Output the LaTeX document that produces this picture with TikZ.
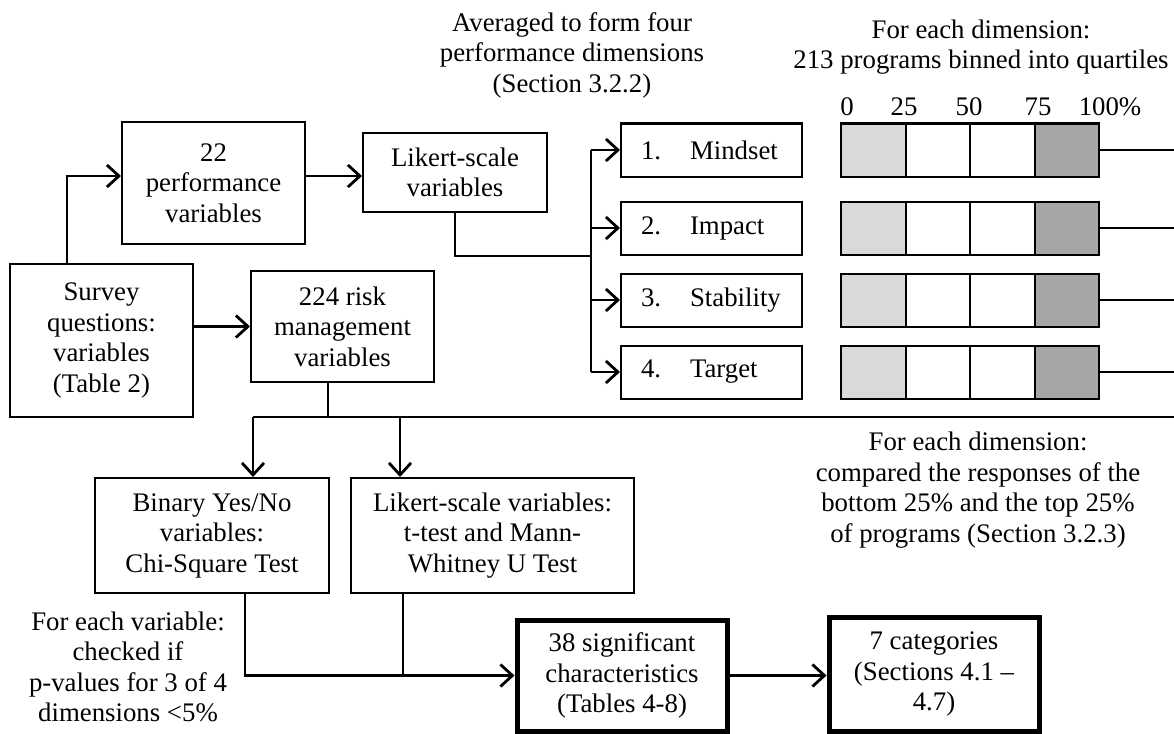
\documentclass[tikz,border=0pt]{standalone}
\usepackage{fontspec}
\setmainfont{Liberation Serif}
\usetikzlibrary{arrows.meta}

\begin{document}
\begin{tikzpicture}[x=1pt,y=-1pt,
  every node/.style={font=\fontsize{26.8}{30.5}\selectfont,align=center},
  box/.style={draw,line width=2pt,inner sep=0pt},
  bigbox/.style={box,line width=5pt},
  cell/.style={box,minimum width=64.5pt,minimum height=53pt},
  link/.style={line width=2.8pt},
  arr/.style={link,-{Straight Barb[length=12pt,width=22pt,line width=2.8pt]}}]

	\useasboundingbox (0,0) rectangle (1174,733);

	% boxes of the upper half
	\node [box, minimum width=183pt, minimum height=153pt] (survey) at (101.5,340.5) {Survey\\questions:\\variables\\(Table 2)};
	\node [box, minimum width=183pt, minimum height=122pt] (perf) at (213.5,183) {22\\performance\\variables};
	\node [box, minimum width=184pt, minimum height=79pt] (likA) at (455,172.5) {Likert-scale\\variables};
	\node [box, minimum width=183pt, minimum height=111pt] (risk) at (342.5,326.5) {224 risk\\management\\variables};

	\node (avg) at (572,55) {Averaged to form four\\performance dimensions\\(Section 3.2.2)};
	\node (quart) at (981,47) {For each dimension:\\213 programs binned into quartiles};
	\foreach \lab/\xx in {0/847,25/904,50/969,75/1038,100\%/1110}
		\node (lab\xx) at (\xx,107) {\lab};

	% four dimensions and their quartiles
	\foreach \i/\name/\yy in {1/Mindset/150,2/Impact/228,3/Stability/300,4/Target/372} {
		\node [box, minimum width=181pt, minimum height=53pt, text width=141pt, align=left] (dim\i) at (711.5,\yy) {\makebox[49pt][l]{\i.}\name};
		\node [cell, fill=gray!30] (lo\i) at (873.25,\yy) {};
		\node [cell] (mA\i) at (937.75,\yy) {};
		\node [cell] (mB\i) at (1002.25,\yy) {};
		\node [cell, fill=gray!70] (hi\i) at (1066.75,\yy) {};
		\coordinate (rim\i) at (1174,\yy);
		\draw [link] (hi\i) -- (rim\i);
	}

	% boxes of the lower half
	\node [box, minimum width=234pt, minimum height=115pt] (bin) at (212,535.5) {Binary Yes/No\\variables:\\Chi-Square Test};
	\node [box, minimum width=283pt, minimum height=115pt] (likB) at (492.5,535.5) {Likert-scale variables:\\t-test and Mann-\\Whitney U Test};
	\node [bigbox, minimum width=210pt, minimum height=111pt] (sig) at (622,675.5) {38 significant\\characteristics\\(Tables 4-8)};
	\node [bigbox, minimum width=210pt, minimum height=114pt] (cat) at (934,674) {7 categories\\(Sections 4.1 --\\4.7)};

	\node (cmp) at (978,490) {For each dimension:\\compared the responses of the\\bottom 25\% and the top 25\%\\of programs (Section 3.2.3)};
	\node (chk) at (128,667) {For each variable:\\checked if\\p-values for 3 of 4\\dimensions <5\%};

	% connectors
	\draw [arr] ([xshift=-34.5pt]survey.north) |- ([yshift=7pt]perf.west);
	\draw [arr] ([yshift=7pt]perf.east) -- ([yshift=7pt]perf.east -| likA.west);
	\draw [arr] (survey.east |- risk) -- (risk);

	\coordinate (bus) at (591,256);
	\draw [link] (likA.south) |- (bus);
	\draw [link] (bus |- dim1.west) -- (bus |- dim4.west);
	\foreach \i in {1,...,4}
		\draw [arr] (bus |- dim\i.west) -- (dim\i.west);

	\coordinate (trunk) at (328,417);
	\coordinate (trunkL) at (253,417);
	\coordinate (trunkM) at (400,417);
	\coordinate (trunkR) at (1174,417);
	\draw [link] (trunk |- risk.south) -- (trunk);
	\draw [link] (trunkL) -- (trunkR);
	\draw [arr] (trunkL) -- (trunkL |- bin.north);
	\draw [arr] (trunkM) -- (trunkM |- likB.north);

	\coordinate (joinL) at (245,675.5);
	\coordinate (join) at (403,675.5);
	\draw [arr] (bin.south -| joinL) |- (sig);
	\draw [link] (likB.south -| join) -- (join);
	\draw [arr] (sig.east) -- (sig.east -| cat.west);

\end{tikzpicture}
\end{document}
